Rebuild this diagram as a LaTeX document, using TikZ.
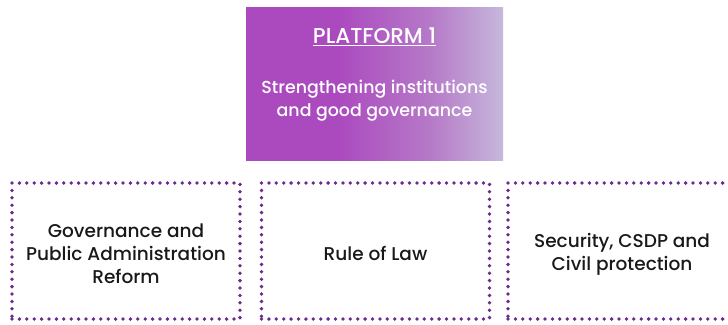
\documentclass[tikz,border=0pt]{standalone}
\usepackage{fontspec}
\setmainfont{Poppins}[UprightFont=* Medium, BoldFont=* SemiBold]
\usetikzlibrary{positioning}

\definecolor{platdark}{HTML}{AB4ABF}
\definecolor{platmid}{HTML}{B67AC8}
\definecolor{platlight}{HTML}{C6B8DB}
\definecolor{dotpurple}{HTML}{6A2A8E}

\pgfdeclarehorizontalshading{platfade}{100bp}{color(0bp)=(platdark); color(43bp)=(platdark); color(61bp)=(platmid); color(75bp)=(platlight); color(100bp)=(platlight)}

% pushes a text block down inside its box
\newcommand\boxlift{\rule{0pt}{20pt}}

\tikzset{
  platbox/.style={shading=platfade, shading angle=0, minimum width=257pt,
                  minimum height=153pt, text=white, align=center,
                  font=\fontsize{17.4}{23}\selectfont, inner sep=0pt},
  areabox/.style={draw=dotpurple, line width=3.8pt, line cap=round,
                  dash pattern=on 0pt off 7.4pt, minimum width=228pt,
                  minimum height=136pt, align=center, inner sep=0pt,
                  text=black!90, font=\fontsize{18.5}{23}\selectfont}
}

\begin{document}
\begin{tikzpicture}[x=1pt,y=-1pt]
  \useasboundingbox (0,0) rectangle (728,324);

  \node[platbox]  (platform) at (374.5,83.5)
    {{\fontsize{21.5}{23}\selectfont\underline{PLATFORM 1}}\\[27pt]
     Strengthening institutions\\
     and good governance\rule[-22pt]{0pt}{0pt}};

  \node[areabox]  (govern)   at (126,251)
    {\boxlift Governance and\\Public Administration\\Reform};
  \node[areabox]  (rule)     at (375.5,251) {\boxlift Rule of Law};
  \node[areabox]  (security) at (622,251)
    {\boxlift Security, CSDP and\\Civil protection};
\end{tikzpicture}
\end{document}
